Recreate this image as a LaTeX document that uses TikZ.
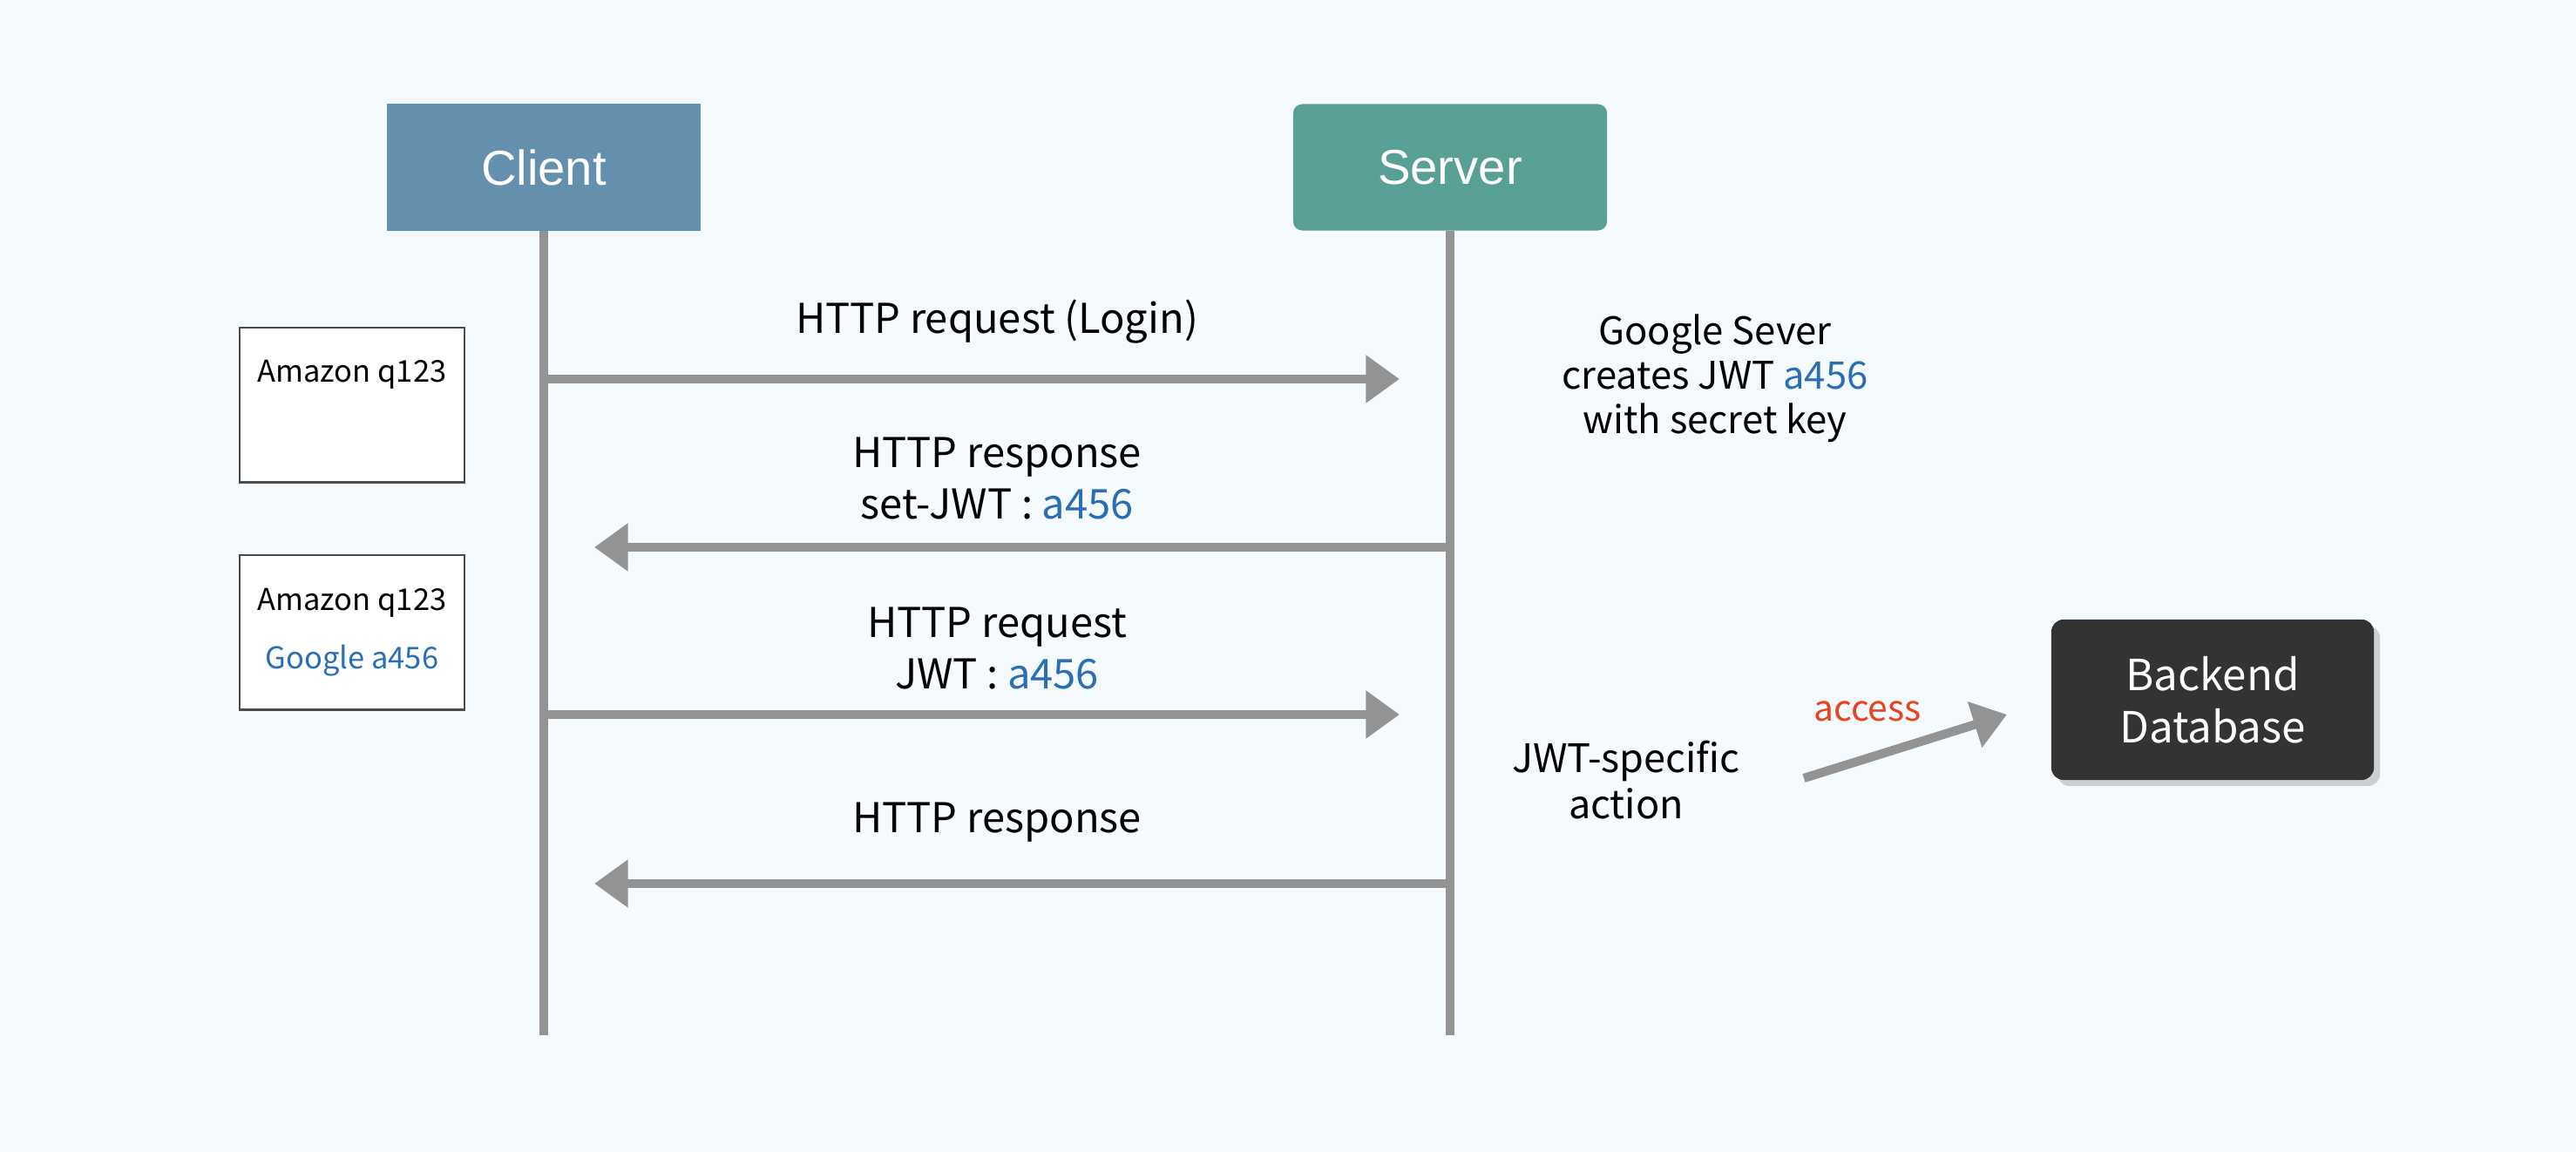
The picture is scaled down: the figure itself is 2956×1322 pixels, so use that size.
\documentclass[tikz,border=0pt]{standalone}
\usepackage{fontspec}
\setmainfont{Noto Sans CJK KR}
\newfontfamily\headfont{Liberation Sans}
\usetikzlibrary{arrows.meta,positioning,shadows}
\definecolor{bgcol}{HTML}{F5FAFE}
\definecolor{linegray}{HTML}{939393}
\definecolor{clientcol}{HTML}{6590AD}
\definecolor{servercol}{HTML}{58A095}
\definecolor{jwtblue}{HTML}{2A6EB6}
\definecolor{accessred}{HTML}{E8431E}
\definecolor{dbcol}{HTML}{333333}
\newcommand{\jwt}[1]{\textcolor{jwtblue}{#1}}

\begin{document}
\begin{tikzpicture}[x=0.01cm,y=-0.01cm,
  actor/.style={minimum width=3.6cm,minimum height=1.45cm,inner sep=0pt,text=white,font=\headfont\fontsize{16}{19}\selectfont},
  lifeline/.style={line width=2.7pt,draw=linegray},
  msg/.style={line width=2.9pt,draw=linegray,-{Triangle[length=11pt,width=15pt]}},
  note/.style={draw=black!70,fill=white,line width=0.6pt,minimum width=2.58cm,minimum height=1.77cm,inner sep=0pt},
  lbl/.style={align=center,font=\fontsize{13.4}{16.6}\selectfont},
  small/.style={font=\fontsize{9.8}{19}\selectfont,align=center}]
\fill[bgcol] (0,0) rectangle (2956,1322);
\useasboundingbox (0,0) rectangle (2956,1322);

% actors
\node[actor,fill=clientcol] (client) at (624,192) {Client};
\node[actor,fill=servercol,rounded corners=3pt] (server) at (1664,192) {Server};
\coordinate (client_end) at (624,1188);
\coordinate (server_end) at (1664,1188);
\draw[lifeline] (client) -- (client_end);
\draw[lifeline] (server) -- (server_end);

% messages
\coordinate (c_1) at (629,435);  \coordinate (s_1) at (1606,435);
\coordinate (s_2) at (1659,628); \coordinate (c_2) at (682,628);
\coordinate (c_3) at (629,820);  \coordinate (s_3) at (1606,820);
\coordinate (s_4) at (1659,1014); \coordinate (c_4) at (682,1014);
\draw[msg] (c_1) -- (s_1);
\draw[msg] (s_2) -- (c_2);
\draw[msg] (c_3) -- (s_3);
\draw[msg] (s_4) -- (c_4);
\node[lbl] (req_1) at (1144,369) {HTTP request (Login)};
\node[lbl] (resp_1) at (1144,549) {HTTP response\\set-JWT : \jwt{a456}};
\node[lbl] (req_2) at (1144,744) {HTTP request\\JWT : \jwt{a456}};
\node[lbl] (resp_2) at (1144,944) {HTTP response};

% client storage
\node[note] (store_1) at (404,465) {};
\node[small] (amazon_1) at (404,430) {Amazon q123};
\node[note,small] (store_2) at (404,726) {Amazon q123\\\jwt{Google a456}};

% server side
\node[align=center,font=\fontsize{12.4}{14.5}\selectfont] (create) at (1968,434) {Google Sever\\creates JWT \jwt{a456}\\with secret key};
\node[align=center,font=\fontsize{12.8}{15}\selectfont] (action) at (1866,895) {JWT-specific\\action};
\node[fill=dbcol,rounded corners=4pt,minimum width=3.7cm,minimum height=1.84cm,text=white,align=center,
  font=\fontsize{14}{17}\selectfont,drop shadow={opacity=0.35,shadow xshift=2pt,shadow yshift=-2pt}] (db) at (2539,803) {Backend\\Database};
\coordinate (acc_s) at (2070,893);
\coordinate (acc_e) at (2303,820);
\draw[msg] (acc_s) -- (acc_e);
\node[text=accessred,font=\fontsize{11.6}{15}\selectfont] (access) at (2143,816) {access};
\end{tikzpicture}
\end{document}
